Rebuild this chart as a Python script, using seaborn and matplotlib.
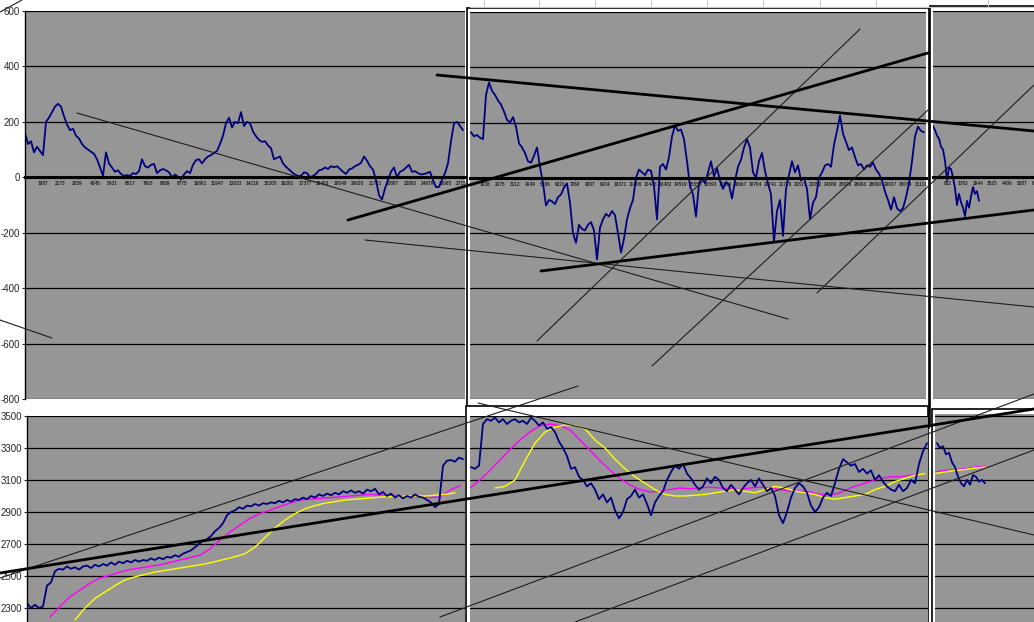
import numpy as np
import pandas as pd
import seaborn as sns
import matplotlib.pyplot as plt
from matplotlib.patches import Rectangle

# ---------------- data ----------------
# top row: spread series (three chart windows), one sample every few sessions
top_left_vals = [160, 120, 130, 90, 110, 95, 80, 200, 215, 235, 255, 265, 255, 220, 190, 170, 175, 150,
                 140, 120, 108, 100, 92, 85, 65, 36, 5, 90, 50, 35, 20, 25, 12, 5, 8, 5, 15, 12, 22, 65,
                 40, 35, 45, 48, 15, 25, 30, 25, 18, 0, 10, 2, -8, 10, 22, 15, 45, 62, 65, 50, 65, 75,
                 80, 88, 95, 120, 150, 195, 215, 180, 200, 195, 235, 185, 200, 195, 165, 148, 135, 128,
                 130, 115, 105, 65, 70, 75, 50, 38, 28, 18, 10, 5, 5, 18, 15, 0, 5, 12, 25, 28, 35, 30,
                 40, 36, 40, 30, 20, 12, 28, 32, 40, 45, 52, 75, 60, 40, 28, -10, -65, -80, -40, -10,
                 20, 35, 0, 20, 25, 35, 45, 20, 22, 15, 10, 12, 15, 20, -10, -35, -35, -10, 15, 50,
                 130, 195, 200, 185, 170]
top_mid_vals = [165, 150, 155, 145, 140, 300, 345, 315, 300, 280, 265, 240, 210, 200, 220, 185, 125, 110,
                90, 60, 55, 80, 110, 40, -20, -100, -80, -85, -95, -70, -60, -35, -20, -90, -200, -235,
                -170, -185, -190, -170, -160, -190, -295, -180, -150, -130, -140, -120, -135, -200, -270,
                -220, -150, -110, -80, 0, 30, 20, 10, 30, 25, -30, -150, 40, 50, 30, 75, 150, 190, 170,
                175, 140, 60, -30, -60, -140, -20, 0, -20, 20, 60, 5, 35, -10, -40, -15, -25, -75, -10,
                40, 65, 110, 140, 110, 20, 0, 60, 90, 25, -20, -60, -230, -120, -80, -210, -40, 10, 60,
                20, 45, -10, 0, -40, -150, -90, -70, 0, 20, 45, 50, 40, 120, 170, 225, 160, 130, 100,
                110, 75, 45, 50, 30, 45, 40, 55, 30, 15, -10, -50, -80, -115, -70, -110, -120, -110,
                -70, -20, 60, 150, 185, 170, 165]
top_right_vals = [185, 170, 150, 140, 110, 100, 60, -10, 35, 30, 0, -40, -100, -60, -90, -110, -140, -85,
                  -110, -70, -35, -60, -50, -85]

# bottom row: index level with two moving averages
bot_left_vals = [2330, 2300, 2320, 2300, 2310, 2440, 2460, 2530, 2545, 2540, 2560, 2545, 2555, 2540, 2560,
                 2565, 2550, 2570, 2560, 2575, 2565, 2585, 2570, 2590, 2580, 2595, 2585, 2600, 2590, 2600,
                 2595, 2610, 2600, 2615, 2605, 2620, 2615, 2630, 2620, 2640, 2650, 2660, 2680, 2700, 2720,
                 2730, 2750, 2780, 2800, 2830, 2880, 2900, 2910, 2930, 2920, 2940, 2935, 2950, 2940, 2955,
                 2950, 2960, 2955, 2970, 2960, 2975, 2965, 2980, 2975, 2990, 2980, 3000, 2990, 3010, 3000,
                 3015, 3005, 3020, 3010, 3030, 3020, 3035, 3020, 3030, 3015, 3040, 3030, 3045, 3010, 3025,
                 3000, 3015, 2990, 3005, 2985, 3000, 2990, 3010, 2995, 2990, 2975, 2960, 2930, 2950, 3190,
                 3220, 3225, 3215, 3240, 3230]
bot_mid_vals = [3180, 3170, 3190, 3450, 3480, 3470, 3490, 3460, 3480, 3450, 3470, 3480, 3460, 3470, 3450,
                3490, 3470, 3440, 3460, 3420, 3430, 3400, 3340, 3300, 3250, 3170, 3180, 3120, 3100, 3060,
                3080, 3040, 2980, 3010, 2960, 2990, 2910, 2860, 2900, 2980, 3000, 3040, 2990, 3010, 2950,
                2880, 2960, 3000, 3030, 3100, 3150, 3190, 3170, 3200, 3140, 3110, 3070, 3040, 3060, 3110,
                3080, 3120, 3100, 3050, 3030, 3070, 3040, 3010, 3050, 3080, 3100, 3060, 3110, 3070, 3030,
                3050, 3000, 2880, 2830, 2900, 2990, 3050, 3080, 3060, 3020, 2940, 2900, 2930, 2990, 3020,
                3000, 3080, 3170, 3230, 3210, 3190, 3200, 3150, 3170, 3140, 3160, 3100, 3130, 3090, 3060,
                3040, 3030, 3070, 3030, 3050, 3100, 3080, 3200, 3280, 3330]
bot_right_vals = [3330, 3300, 3310, 3260, 3270, 3210, 3180, 3120, 3080, 3060, 3100, 3070, 3130, 3120, 3090,
                  3100, 3080]

bot_left_fast = [2244, 2310, 2370, 2412, 2455, 2487, 2505, 2525, 2540, 2550, 2560, 2570, 2585, 2600, 2615,
                 2630, 2670, 2725, 2775, 2819, 2860, 2890, 2912, 2935, 2955, 2975, 2980, 2985, 2990, 2994,
                 3000, 3005, 3010, 3006, 3005, 3000, 3000, 2995, 2990, 2995, 3037, 3065]
bot_left_slow = [2225, 2300, 2360, 2400, 2440, 2475, 2495, 2510, 2525, 2535, 2545, 2555, 2565, 2575, 2590,
                 2605, 2620, 2640, 2680, 2740, 2800, 2850, 2890, 2920, 2940, 2955, 2965, 2975, 2980, 2985,
                 2990, 2995, 2995, 3000, 3000, 3000, 3005, 3010, 3020]
bot_mid_fast = [3050, 3100, 3160, 3225, 3290, 3350, 3400, 3440, 3450, 3440, 3412, 3350, 3287, 3220, 3162,
                3110, 3069, 3040, 3025, 3030, 3040, 3050, 3045, 3050, 3055, 3050, 3045, 3040, 3050, 3055,
                3050, 3040, 3030, 3030, 3025, 3010, 3006, 3020, 3050, 3070, 3090, 3110, 3120, 3120, 3130,
                3135]
bot_mid_slow = [3050, 3060, 3100, 3220, 3330, 3400, 3430, 3444, 3440, 3420, 3350, 3300, 3230, 3170, 3120,
                3080, 3040, 3010, 3000, 3000, 3005, 3010, 3020, 3030, 3040, 3030, 3020, 3040, 3060, 3050,
                3030, 3020, 3010, 2990, 2980, 2990, 3000, 3010, 3040, 3060, 3090, 3110, 3130, 3140]
bot_right_fast = [3150, 3160, 3165, 3170, 3180, 3185]
bot_right_slow = [3140, 3150, 3160, 3165, 3175, 3180]

# category labels printed along the zero line (every n-th session)
top_left_step, top_mid_step, top_right_step = 1086, 1037, 881

top_yticks = [600, 400, 200, 0, -200, -400, -600, -800]
bot_yticks = [3500, 3300, 3100, 2900, 2700, 2500, 2300, 2100]

# hand-drawn trend lines on the screenshot (screen pixels: x0, y0, x1, y1)
thick_lines = [(437, 75, 1034, 131), (348, 220, 928, 53), (541, 271, 1034, 210), (0, 573, 1034, 409)]
thin_lines = [(77, 113, 788, 319), (365, 240, 1034, 307), (0, 320, 52, 338), (0, 12, 22, 0),
              (537, 341, 860, 29), (652, 366, 928, 110), (817, 293, 1034, 85), (0, 578, 578, 386),
              (478, 403, 1034, 535), (440, 617, 1034, 394), (575, 622, 1034, 450)]

# ---------------- drawing ----------------
W, H = 1034, 622
sns.set_style('white')
plt.rcParams['font.family'] = ['Liberation Sans', 'DejaVu Sans']

PLOT_GRAY = '#969696'
NAVY = '#000080'

fig = plt.figure(figsize=(W / 100, H / 100), dpi=100)
fig.patch.set_facecolor('white')

# window frames behind the charts
bg = fig.add_axes([0, 0, 1, 1], zorder=0)
bg.set_xlim(0, W)
bg.set_ylim(H, 0)
bg.axis('off')
for gx in [484, 539, 595, 651, 707, 763, 820, 876, 988]:
    bg.plot([gx, gx], [0, 7], color='#c8c8c8', lw=0.8)
bg.plot([470, W], [7, 7], color='#c8c8c8', lw=0.8)
bg.add_patch(Rectangle((467, 8), 462, 420, facecolor='white', edgecolor='black', lw=1.2))
bg.add_patch(Rectangle((929.5, 6), 200, 420, facecolor='white', edgecolor='black', lw=1.2))
bg.add_patch(Rectangle((465.5, 406), 462.5, 300, facecolor='white', edgecolor='black', lw=1.2))
bg.add_patch(Rectangle((932, 409), 200, 300, facecolor='white', edgecolor='black', lw=1.2))


def add_panel(box, xmax, ylim, yticks):
    x0, y0, x1, y1 = box
    ax = fig.add_axes([x0 / W, 1 - y1 / H, (x1 - x0) / W, (y1 - y0) / H], zorder=1)
    ax.set_facecolor(PLOT_GRAY)
    ax.set_xlim(0, xmax)
    ax.set_ylim(*ylim)
    ax.set_yticks(yticks)
    ax.grid(axis='y', color='black', lw=0.9)
    ax.grid(axis='x', visible=False)
    for s in ax.spines.values():
        s.set_visible(False)
    ax.tick_params(axis='y', left=False, labelleft=False)
    ax.tick_params(axis='x', bottom=False, labelbottom=False)
    return ax


def add_zero_axis(ax, step, xmax):
    ax.spines['bottom'].set_visible(True)
    ax.spines['bottom'].set_position(('data', 0))
    ax.spines['bottom'].set_linewidth(2.2)
    ax.spines['bottom'].set_color('black')
    ticks = np.arange(step + 1, xmax, step)
    ax.set_xticks(ticks)
    ax.set_xticklabels([str(t) for t in ticks], fontsize=3.4, fontweight='bold')
    ax.tick_params(axis='x', bottom=True, labelbottom=True, length=1.5, width=0.6, pad=1.5)


def add_value_axis(ax, labels):
    ax.spines['left'].set_visible(True)
    ax.spines['left'].set_color('black')
    ax.spines['left'].set_linewidth(1)
    ax.tick_params(axis='y', left=True, labelleft=True, length=2.5, width=0.8, labelsize=7, pad=1)
    ax.set_yticklabels(labels)


def draw(ax, start, step, vals, color, lw):
    x = start + step * np.arange(len(vals))
    sns.lineplot(x=x, y=vals, ax=ax, color=color, linewidth=lw, estimator=None, sort=False)


top_ylim = (-800, 600)
bot_ylim = (2100, 3500)

# top row
ax_tl = add_panel((25, 11, 465, 399), 27280, top_ylim, top_yticks)
add_zero_axis(ax_tl, top_left_step, 27280)
add_value_axis(ax_tl, [str(v) for v in top_yticks])
draw(ax_tl, 0, 186, top_left_vals, NAVY, 1.3)

ax_tm = add_panel((470, 12, 926, 399), 31464, top_ylim, top_yticks)
add_zero_axis(ax_tm, top_mid_step, 31464)
draw(ax_tm, 69, 207, top_mid_vals, NAVY, 1.3)

ax_tr = add_panel((933, 11, 1100, 399), 9853, top_ylim, top_yticks)
add_zero_axis(ax_tr, top_right_step, 9853)
draw(ax_tr, 0, 118, top_right_vals, NAVY, 1.3)

# bottom row
ax_bl = add_panel((27, 416, 465, 640), 27156, bot_ylim, bot_yticks)
add_value_axis(ax_bl, [str(v) for v in bot_yticks])
draw(ax_bl, 1426, 620, bot_left_fast, '#ff00ff', 1.0)
draw(ax_bl, 2976, 620, bot_left_slow, '#ffff00', 1.0)
draw(ax_bl, 0, 248, bot_left_vals, NAVY, 1.3)

ax_bm = add_panel((470, 416, 928, 640), 28396, bot_ylim, bot_yticks)
draw(ax_bm, 0, 620, bot_mid_fast, '#ff00ff', 1.0)
draw(ax_bm, 1550, 620, bot_mid_slow, '#ffff00', 1.0)
draw(ax_bm, 62, 248, bot_mid_vals, NAVY, 1.3)

ax_br = add_panel((935, 414, 1100, 640), 10230, (2100, 3512), bot_yticks)
draw(ax_br, 0, 620, bot_right_fast, '#ff00ff', 1.0)
draw(ax_br, 0, 620, bot_right_slow, '#ffff00', 1.0)
draw(ax_br, 124, 186, bot_right_vals, NAVY, 1.3)

# trend lines drawn over the whole screen
ov = fig.add_axes([0, 0, 1, 1], zorder=5)
ov.set_xlim(0, W)
ov.set_ylim(H, 0)
ov.axis('off')
ov.patch.set_alpha(0)
for x0, y0, x1, y1 in thin_lines:
    ov.plot([x0, x1], [y0, y1], color='#1e1e1e', lw=0.8)
for x0, y0, x1, y1 in thick_lines:
    ov.plot([x0, x1], [y0, y1], color='black', lw=2.0)

fig.savefig('out.png', dpi=100)
plt.close(fig)
